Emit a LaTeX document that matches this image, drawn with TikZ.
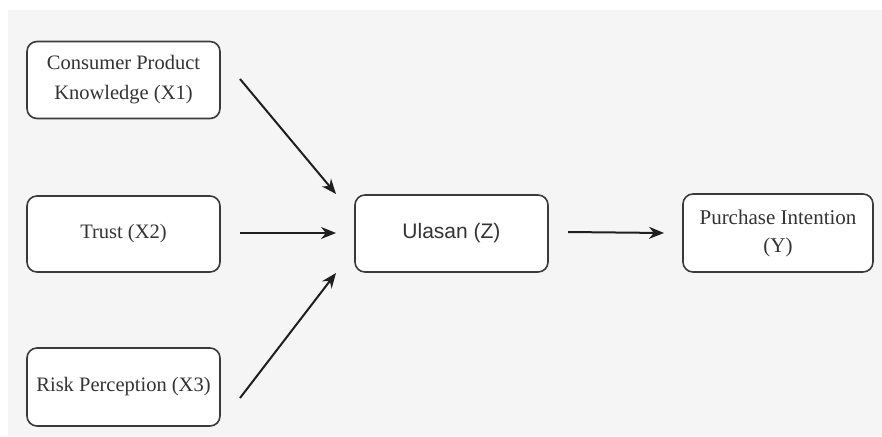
\documentclass[tikz,border=0pt]{standalone}
\usepackage{fontspec}
\setmainfont{Liberation Serif}
\newfontfamily\arialfont{Liberation Sans}
\usetikzlibrary{arrows.meta}
\definecolor{bggray}{HTML}{F5F5F5}
\definecolor{boxline}{HTML}{3A3A3A}
\definecolor{txt}{HTML}{333333}
\begin{document}
\begin{tikzpicture}[x=1pt,y=-1pt,
  box/.style={draw=boxline, line width=1.6pt, fill=white, rounded corners=10pt,
    minimum width=193pt, minimum height=77pt, inner sep=0pt, align=center,
    text=txt, font=\fontsize{20.5}{30}\selectfont},
  arr/.style={line width=2pt, draw=black!88, -{Stealth[length=15pt,width=12pt]}}]
\useasboundingbox (0,0) rectangle (882,436);
\fill[white] (0,0) rectangle (882,436);
\fill[bggray] (8,10) rectangle (882,436);

\node[box] (x1) at (123.5,80) {Consumer Product\\Knowledge (X1)};
\node[box, minimum height=76pt] (x2) at (123.5,234) {Trust (X2)};
\node[box, minimum height=78pt] (x3) at (123.5,387) {Risk Perception (X3)};
\node[box, font=\arialfont\fontsize{21}{28}\selectfont] (z) at (451.5,233.5) {Ulasan (Z)};
\node[box, minimum width=190pt, minimum height=78pt, font=\fontsize{21}{28}\selectfont] (y) at (778,233) {Purchase Intention\\(Y)};

\coordinate (a1s) at (240,79);  \coordinate (a1e) at (336,194);
\coordinate (a2s) at (240,233); \coordinate (a2e) at (336,233);
\coordinate (a3s) at (240,398); \coordinate (a3e) at (336,273);
\coordinate (a4s) at (568,232); \coordinate (a4e) at (664,233);

\draw[arr] (a1s) -- (a1e);
\draw[arr] (a2s) -- (a2e);
\draw[arr] (a3s) -- (a3e);
\draw[arr] (a4s) -- (a4e);
\end{tikzpicture}
\end{document}
